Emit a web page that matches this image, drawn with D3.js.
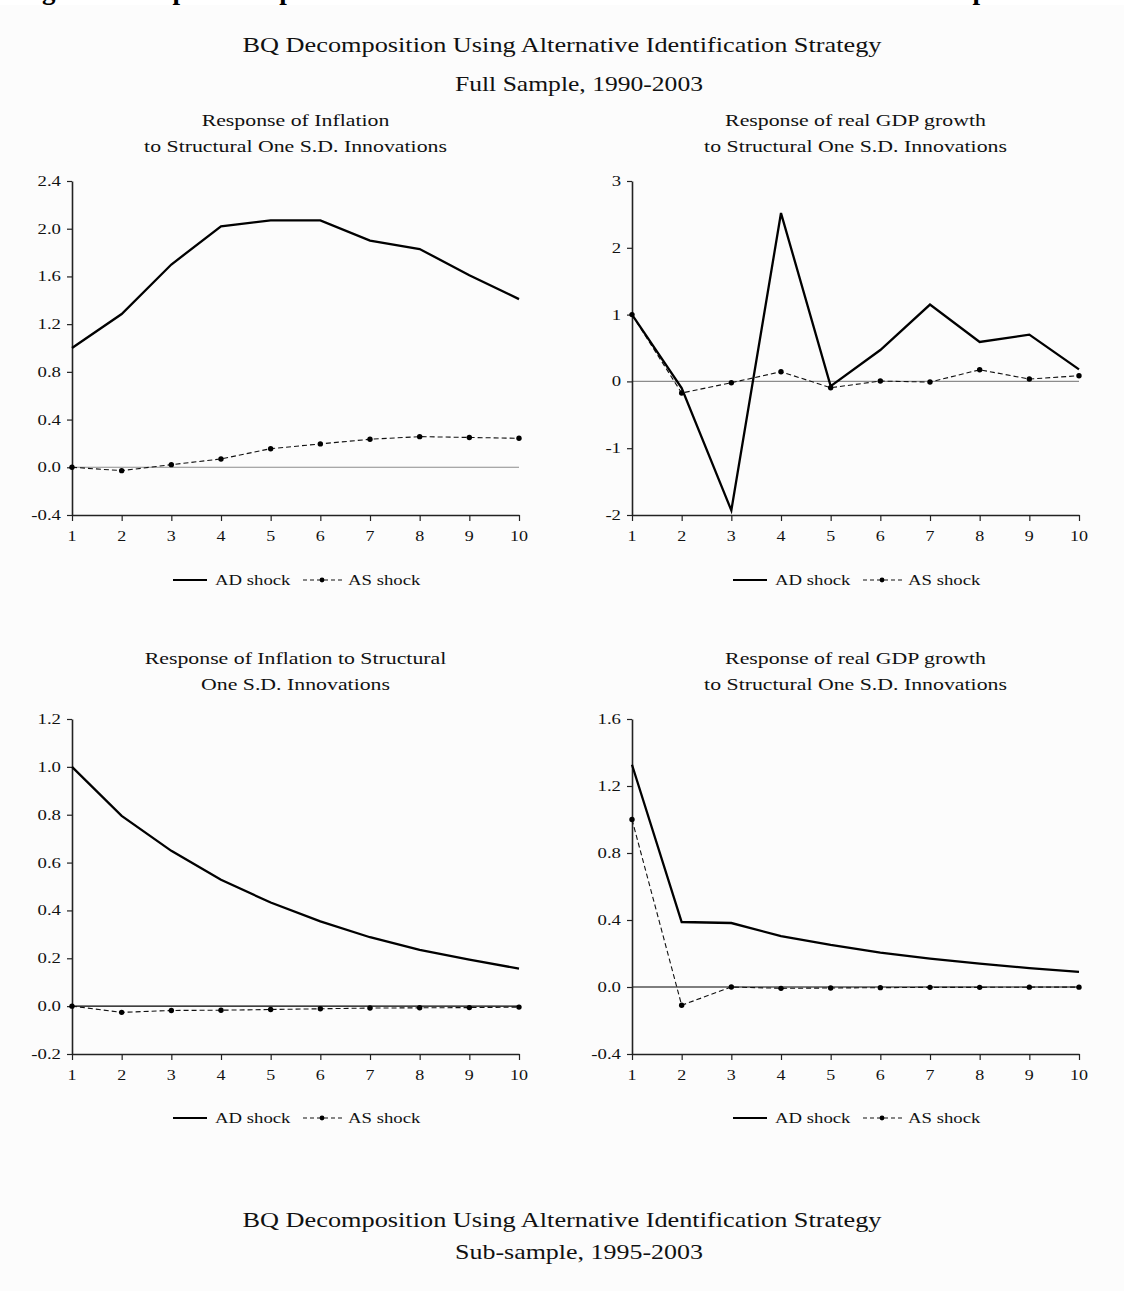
<!DOCTYPE html>
<html>
<head>
<meta charset="utf-8">
<script src="https://cdn.jsdelivr.net/npm/d3@7"></script>
<style>
  html, body { margin: 0; padding: 0; background: #fcfcfc; }
  svg { display: block; }
</style>
</head>
<body>
<script>
// Impulse-response horizons (periods after the shock)
const horizons = [1, 2, 3, 4, 5, 6, 7, 8, 9, 10];

// Full sample, 1990-2003
const inflationFullAD = [1.00, 1.285, 1.70, 2.02, 2.07, 2.07, 1.90, 1.83, 1.61, 1.41];
const inflationFullAS = [0.00, -0.028, 0.022, 0.07, 0.156, 0.196, 0.235, 0.257, 0.25, 0.243];
const gdpFullAD = [1.00, -0.10, -1.93, 2.52, -0.07, 0.47, 1.15, 0.59, 0.70, 0.18];
const gdpFullAS = [1.00, -0.174, -0.02, 0.145, -0.095, 0.005, -0.01, 0.174, 0.035, 0.085];

// Sub-sample, 1995-2003
const inflationSubAD = [1.00, 0.795, 0.649, 0.528, 0.433, 0.354, 0.288, 0.235, 0.194, 0.157];
const inflationSubAS = [0.00, -0.026, -0.018, -0.017, -0.014, -0.011, -0.008, -0.007, -0.006, -0.004];
const gdpSubAD = [1.327, 0.388, 0.382, 0.304, 0.251, 0.205, 0.169, 0.139, 0.113, 0.09];
const gdpSubAS = [1.00, -0.109, 0.00, -0.008, -0.006, -0.004, -0.002, -0.002, -0.001, -0.001];

// Y-axis tick values per panel
const inflationFullTicks = [-0.4, 0.0, 0.4, 0.8, 1.2, 1.6, 2.0, 2.4];
const gdpFullTicks = [-2, -1, 0, 1, 2, 3];
const inflationSubTicks = [-0.2, 0.0, 0.2, 0.4, 0.6, 0.8, 1.0, 1.2];
const gdpSubTicks = [-0.4, 0.0, 0.4, 0.8, 1.2, 1.6];

const seriesNames = ["AD shock", "AS shock"];
const figureCaption = "Figure 10: Impulse Response Functions of Inflation and Real GDP Growth: Full Sample";
const headingLines = ["BQ Decomposition Using Alternative Identification Strategy", "Full Sample, 1990-2003"];
const footingLines = ["BQ Decomposition Using Alternative Identification Strategy", "Sub-sample, 1995-2003"];
const panelTitles = [
  ["Response of Inflation", "to Structural One S.D. Innovations"],
  ["Response of real GDP growth", "to Structural One S.D. Innovations"],
  ["Response of Inflation to Structural", "One S.D. Innovations"],
  ["Response of real GDP growth", "to Structural One S.D. Innovations"]
];

// ---------------------------------------------------------------------------
const W = 1124, H = 1291;
const FONT = "'Liberation Serif', 'Times New Roman', serif";
const INK = "#111";

const locale = d3.formatLocale({ decimal: ".", thousands: ",", grouping: [3], currency: ["", ""], minus: "-" });
const fmt1 = locale.format(".1f");
const fmt0 = locale.format("d");

const svg = d3.select("body").append("svg").attr("width", W).attr("height", H);
svg.append("rect").attr("width", W).attr("height", H).attr("fill", "#fcfcfc");
svg.append("rect").attr("width", W).attr("height", 5).attr("fill", "#ffffff");

function stretched(g, x, y, str, size, anchor, sx) {
  return g.append("text")
    .attr("transform", `translate(${x},${y}) scale(${sx},1)`)
    .attr("text-anchor", anchor)
    .attr("font-family", FONT)
    .attr("font-size", size)
    .attr("fill", INK)
    .text(str);
}

function fitted(g, cx, y, str, size, width) {
  return g.append("text")
    .attr("x", cx).attr("y", y)
    .attr("text-anchor", "middle")
    .attr("font-family", FONT)
    .attr("font-size", size)
    .attr("fill", INK)
    .attr("textLength", width)
    .attr("lengthAdjust", "spacingAndGlyphs")
    .text(str);
}

// Natural width of a string in the serif face
function naturalWidth(str, size) {
  const t = svg.append("text").attr("font-family", FONT).attr("font-size", size).text(str);
  const w = t.node().getComputedTextLength();
  t.remove();
  return w;
}

// Figure caption running off the top edge
svg.append("text")
  .attr("x", 18).attr("y", -1)
  .attr("font-family", FONT).attr("font-size", 27).attr("font-weight", "bold")
  .attr("fill", "#000")
  .attr("word-spacing", -2)
  .text(figureCaption);

// Headings
fitted(svg, 562, 52, headingLines[0], 22, 639);
fitted(svg, 579, 91, headingLines[1], 22, 248);
fitted(svg, 562, 1227, footingLines[0], 22, 639);
fitted(svg, 579, 1259, footingLines[1], 22, 248);

// Common horizontal stretch for panel titles, from the longest standard line
const titleStretch = 303 / naturalWidth("to Structural One S.D. Innovations", 17);

const panels = [
  { ad: inflationFullAD, as: inflationFullAS, ticks: inflationFullTicks, fmt: fmt1,
    left: 72, right: 519, top: 181, bottom: 515, title: panelTitles[0],
    titleY: [126, 152], legendY: 580, zero: "#8c8c8c" },
  { ad: gdpFullAD, as: gdpFullAS, ticks: gdpFullTicks, fmt: fmt0,
    left: 632, right: 1079, top: 181, bottom: 515, title: panelTitles[1],
    titleY: [126, 152], legendY: 580, zero: "#8c8c8c" },
  { ad: inflationSubAD, as: inflationSubAS, ticks: inflationSubTicks, fmt: fmt1,
    left: 72, right: 519, top: 719, bottom: 1054, title: panelTitles[2],
    titleY: [664, 690], legendY: 1118, zero: "#000" },
  { ad: gdpSubAD, as: gdpSubAS, ticks: gdpSubTicks, fmt: fmt1,
    left: 632, right: 1079, top: 719, bottom: 1054, title: panelTitles[3],
    titleY: [664, 690], legendY: 1118, zero: "#000" }
];

panels.forEach(p => {
  const g = svg.append("g");
  const x = d3.scaleLinear().domain([1, 10]).range([p.left, p.right]);
  const y = d3.scaleLinear().domain(d3.extent(p.ticks)).range([p.bottom, p.top]);
  const cx = (p.left + p.right) / 2;

  // Panel title
  p.title.forEach((line, i) => {
    stretched(g, cx, p.titleY[i], line, 17, "middle", titleStretch);
  });

  // Zero reference line
  g.append("line")
    .attr("x1", x(1)).attr("x2", x(10))
    .attr("y1", y(0)).attr("y2", y(0))
    .attr("stroke", p.zero).attr("stroke-width", 1.1);

  // Y axis
  const yAxis = g.append("g").attr("transform", `translate(${p.left},0)`)
    .call(d3.axisLeft(y).tickValues(p.ticks).tickSize(5).tickSizeOuter(0).tickFormat(""));
  yAxis.select(".domain").attr("stroke", "#222").attr("stroke-width", 1.6);
  yAxis.selectAll(".tick line").attr("stroke", "#222").attr("stroke-width", 1.2);
  p.ticks.forEach(v => {
    stretched(g, p.left - 11, y(v) + 5, p.fmt(v), 15, "end", 1.25);
  });

  // X axis
  const xAxis = g.append("g").attr("transform", `translate(0,${p.bottom})`)
    .call(d3.axisBottom(x).tickValues(horizons).tickSize(6).tickSizeOuter(0).tickFormat(""));
  xAxis.select(".domain").attr("stroke", "#222").attr("stroke-width", 1.6);
  xAxis.selectAll(".tick line").attr("stroke", "#222").attr("stroke-width", 1.2);
  horizons.forEach(h => {
    stretched(g, x(h), p.bottom + 26, fmt0(h), 15, "middle", 1.2);
  });

  const line = d3.line().x((d, i) => x(horizons[i])).y(d => y(d));

  // AS shock: dashed with dot markers
  g.append("path").datum(p.as)
    .attr("d", line).attr("fill", "none")
    .attr("stroke", "#111").attr("stroke-width", 1.1)
    .attr("stroke-dasharray", "5,3");
  g.selectAll("circle.as").data(p.as).enter().append("circle")
    .attr("class", "as")
    .attr("cx", (d, i) => x(horizons[i])).attr("cy", d => y(d))
    .attr("r", 2.7).attr("fill", "#000");

  // AD shock: solid line
  g.append("path").datum(p.ad)
    .attr("d", line).attr("fill", "none")
    .attr("stroke", "#000").attr("stroke-width", 2.3)
    .attr("stroke-linejoin", "miter");

  // Legend
  const lx = p.left + 101;
  const ly = p.legendY;
  g.append("line").attr("x1", lx).attr("x2", lx + 34).attr("y1", ly).attr("y2", ly)
    .attr("stroke", "#000").attr("stroke-width", 1.8);
  stretched(g, lx + 42, ly + 5, seriesNames[0], 15, "start", 1.25);
  const dx = lx + 130;
  g.append("line").attr("x1", dx).attr("x2", dx + 39).attr("y1", ly).attr("y2", ly)
    .attr("stroke", "#111").attr("stroke-width", 1)
    .attr("stroke-dasharray", "4,3");
  g.append("circle").attr("cx", dx + 19).attr("cy", ly).attr("r", 2.4).attr("fill", "#000");
  stretched(g, dx + 45, ly + 5, seriesNames[1], 15, "start", 1.25);
});
</script>
</body>
</html>
